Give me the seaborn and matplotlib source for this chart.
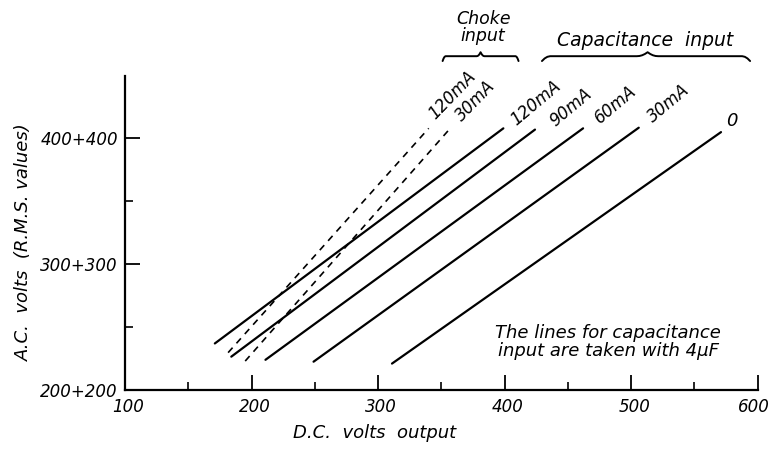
import numpy as np
import pandas as pd
import matplotlib
matplotlib.use("Agg")
import matplotlib.pyplot as plt
import matplotlib.transforms as mtransforms
import seaborn as sns

# ---- data ----
cap_labels = ["120mA", "90mA", "60mA", "30mA", "0"]
cap_x_start = [171, 184, 211, 249, 311]
cap_y_start = [237, 226.5, 224, 222.5, 221]
cap_x_end = [399, 424, 462, 506, 571]
cap_y_end = [408, 407, 408, 408.5, 405]

choke_labels = ["120mA", "30mA"]
choke_x_start = [181.5, 195]
choke_y_start = [229.7, 223]
choke_x_end = [340, 357]
choke_y_end = [408, 408]

x_ticks = [100, 200, 300, 400, 500, 600]
y_ticks = [200, 300, 400]
y_tick_labels = ["200+200", "300+300", "400+400"]

rows = []
for lab, xs, ys, xe, ye in zip(cap_labels, cap_x_start, cap_y_start, cap_x_end, cap_y_end):
    rows += [("cap " + lab, "Capacitance", xs, ys), ("cap " + lab, "Capacitance", xe, ye)]
for lab, xs, ys, xe, ye in zip(choke_labels, choke_x_start, choke_y_start, choke_x_end, choke_y_end):
    rows += [("choke " + lab, "Choke", xs, ys), ("choke " + lab, "Choke", xe, ye)]
df = pd.DataFrame(rows, columns=["series", "kind", "dc", "ac"])

sns.set_style("ticks")
plt.rcParams["font.family"] = ["DejaVu Sans"]
plt.rcParams["font.style"] = "italic"
for k in ["text.color", "axes.labelcolor", "xtick.color", "ytick.color"]:
    plt.rcParams[k] = "black"

fig = plt.figure(figsize=(7.74, 4.51), dpi=100)
ax = fig.add_axes([125 / 774, 1 - 390 / 451, 632.7 / 774, 314.5 / 451])

for name, g in df.groupby("series", sort=False):
    is_choke = g["kind"].iloc[0] == "Choke"
    sns.lineplot(data=g, x="dc", y="ac", ax=ax, color="black", sort=False,
                 lw=1.2 if is_choke else 1.6, estimator=None,
                 linestyle=(0, (4, 3.5)) if is_choke else "-", legend=False)

ax.set_xlim(100, 600)
ax.set_ylim(200, 450)
ax.set_xticks(x_ticks)
ax.set_xticks([150, 250, 350, 450, 550], minor=True)
ax.set_yticks(y_ticks)
ax.set_yticklabels(y_tick_labels)
ax.set_yticks([250, 350], minor=True)
ax.tick_params(axis="both", which="major", direction="in", length=11, width=1.3,
               labelsize=12, colors="black")
ax.tick_params(axis="both", which="minor", direction="in", length=6, width=1.2,
               colors="black")
ax.tick_params(axis="x", pad=6)
ax.tick_params(axis="y", pad=5)
xlbls = ax.get_xticklabels()
for i, lbl in enumerate(xlbls):
    dx = -4 if i == len(xlbls) - 1 else 3
    lbl.set_transform(lbl.get_transform() + mtransforms.ScaledTranslation(dx / 100, 0, fig.dpi_scale_trans))
for s in ["top", "right"]:
    ax.spines[s].set_visible(False)
for s in ["left", "bottom"]:
    ax.spines[s].set_linewidth(1.6)
    ax.spines[s].set_color("black")

ax.set_xlabel("D.C.  volts  output", fontsize=13)
ax.set_ylabel("A.C.  volts  (R.M.S. values)", fontsize=13)
ax.xaxis.set_label_coords(0.394, -0.108)
ax.yaxis.set_label_coords(-0.145, 0.47)

# line labels
cap_off = [(32, 25), (36, 22), (32, 24), (30, 24), (11, 11)]
for lab, xe, ye, off in zip(cap_labels, cap_x_end, cap_y_end, cap_off):
    ax.annotate(lab, (xe, ye), xytext=off, textcoords="offset pixels",
                ha="center", va="center", fontsize=13 if lab == "0" else 12,
                rotation=0 if lab == "0" else 40, annotation_clip=False)
choke_off = [(24, 33), (25, 27)]
for lab, xe, ye, off in zip(choke_labels, choke_x_end, choke_y_end, choke_off):
    ax.annotate(lab, (xe, ye), xytext=off, textcoords="offset pixels",
                ha="center", va="center", fontsize=12, rotation=46,
                annotation_clip=False)

# braces
def brace(x0, x1, xm, yb, yt):
    # curly brace opening downward, tip upward at xm
    h = yt - yb
    t = np.linspace(0, 1, 40)
    xl = x0 + (xm - x0) * t
    yl = yb + h * 0.55 * (1 - (1 - np.clip(t / 0.08, 0, 1)) ** 2) + h * 0.45 * np.clip((t - 0.9) / 0.1, 0, 1) ** 2
    xr = xm + (x1 - xm) * t
    yr = yb + h * 0.55 * (1 - (1 - np.clip((1 - t) / 0.08, 0, 1)) ** 2) + h * 0.45 * np.clip((0.1 - t) / 0.1, 0, 1) ** 2
    ax.plot(np.r_[xl, xr], np.r_[yl, yr], color="black", lw=1.4, clip_on=False)

brace(351, 411, 381, 461.5, 468.5)
brace(429.5, 594, 513, 461.5, 468.5)

ax.text(383, 488, "Choke\ninput", ha="center", va="center", fontsize=12.5,
        linespacing=0.9)
ax.text(511, 478, "Capacitance  input", ha="center", va="center", fontsize=13.5)

ax.text(100 + (608 - 125) / 1.2654, 200 + (390 - 342) / 1.258,
        "The lines for capacitance\ninput are taken with 4\u03bcF",
        ha="center", va="center", fontsize=13, linespacing=1.05)

fig.savefig("out.png", dpi=100)
